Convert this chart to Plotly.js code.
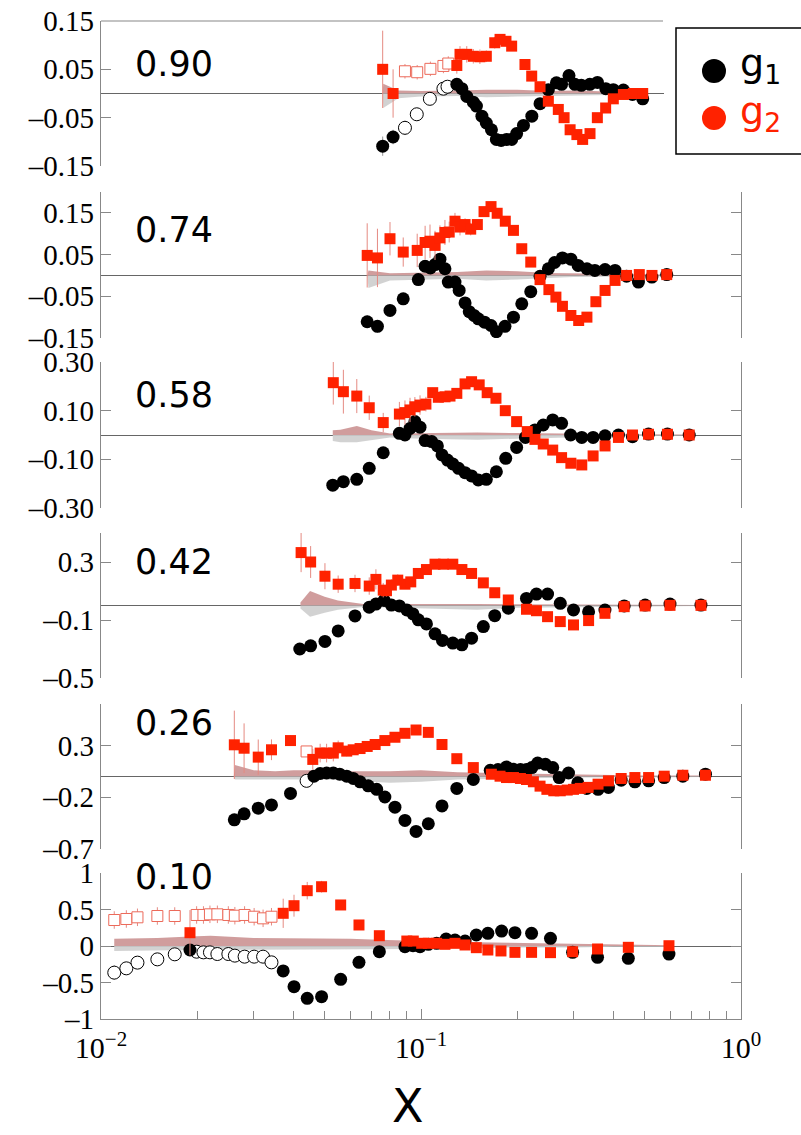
<!DOCTYPE html>
<html>
<head>
<meta charset="utf-8">
<script src="https://cdn.plot.ly/plotly-3.0.1.min.js"></script>
<style>html,body{margin:0;padding:0;background:#fff}#chart{width:801px;height:1135px}</style>
</head>
<body>
<div id="chart"></div>
<script>
// ---------------- DATA ----------------
const panelLabels = ['0.90', '0.74', '0.58', '0.42', '0.26', '0.10'];
const xTickVals = [0.01, 0.1, 1];
const xTickText = ['10<sup>−2</sup>', '10<sup>−1</sup>', '10<sup>0</sup>'];
const xMinorVals = [0.02,0.03,0.04,0.05,0.06,0.07,0.08,0.09,0.2,0.3,0.4,0.5,0.6,0.7,0.8,0.9];
const yTickVals1 = [-0.15,-0.05,0.05,0.15];
const yTickText1 = ['–0.15','–0.05','0.05','0.15'];
const yTickVals2 = [-0.15,-0.05,0.05,0.15];
const yTickText2 = ['–0.15','–0.05','0.05','0.15'];
const yTickVals3 = [-0.3,-0.1,0.1,0.3];
const yTickText3 = ['–0.30','–0.10','0.10','0.30'];
const yTickVals4 = [-0.5,-0.1,0.3];
const yTickText4 = ['–0.5','–0.1','0.3'];
const yTickVals5 = [-0.7,-0.2,0.3];
const yTickText5 = ['–0.7','–0.2','0.3'];
const yTickVals6 = [-1,-0.5,0,0.5,1];
const yTickText6 = ['–1','–0.5','0','0.5','1'];

// Panel 0.90
const p1_g2x = [0.0759,0.0818,0.1294,0.1324,0.139,0.1457,0.1528,0.160,0.170,0.1766,0.1843,0.192,0.2113,0.2218,0.2355,0.250,0.2686,0.280,0.2924,0.307,0.320,0.3374,0.3557,0.3776,0.399,0.429,0.461,0.493];
const p1_g2y = [0.050,0.000,0.058,0.081,0.081,0.077,0.076,0.077,0.105,0.112,0.108,0.098,0.060,0.036,0.014,-0.016,-0.033,-0.050,-0.075,-0.085,-0.095,-0.083,-0.050,-0.030,-0.011,-0.002,0.000,0.000];
const p1_g2e = [0.08,0.05,0.017,0.017,0.017,0.015,0.015,0.012,0.012,0.010,0.008,0.006,0,0,0,0,0,0,0,0,0,0,0,0,0,0,0,0];
const p1_g2ox = [0.0891,0.0973,0.107,0.1175,0.1217];
const p1_g2oy = [0.046,0.044,0.051,0.057,0.062];
const p1_g2oe = [0.015,0.015,0.015,0.015,0.015];
const p1_g1x = [0.0759,0.0818,0.1294,0.1342,0.139,0.1457,0.149,0.155,0.160,0.166,0.172,0.178,0.185,0.192,0.199,0.209,0.222,0.2355,0.250,0.265,0.275,0.290,0.3025,0.317,0.337,0.356,0.378,0.399,0.429,0.458,0.493];
const p1_g1y = [-0.109,-0.090,0.019,0.010,-0.006,-0.018,-0.026,-0.047,-0.061,-0.075,-0.095,-0.097,-0.095,-0.095,-0.083,-0.066,-0.047,-0.021,0.008,0.022,0.019,0.037,0.019,0.017,0.019,0.023,0.010,0.008,0.007,-0.002,-0.011];
const p1_g1e = [0.02,0.015,0.008,0.006,0,0,0,0,0,0,0,0,0,0,0,0,0,0,0,0,0,0,0,0,0,0,0,0,0,0,0];
const p1_g1ox = [0.0891,0.097,0.1066,0.1175,0.121];
const p1_g1oy = [-0.071,-0.043,-0.011,0.010,0.014];
const p1_g1oe = [0.015,0.012,0.01,0.01,0.01];
const p1_bx = [0.0759,0.0762,0.085,0.10,0.13,0.16,0.20,0.25,0.30,0.40,0.50];
const p1_bup = [0,0.02,0.006,0.005,0.006,0.008,0.008,0.005,0.006,0.004,0.002];
const p1_blo = [0,-0.03,-0.01,-0.006,-0.005,-0.008,-0.006,-0.005,-0.004,-0.003,-0.002];

// Panel 0.74
const p2_g2x = [0.0679,0.0731,0.080,0.088,0.0973,0.103,0.1067,0.1106,0.1146,0.1188,0.1225,0.1277,0.1324,0.1373,0.143,0.150,0.1574,0.1655,0.173,0.1834,0.1945,0.2065,0.2203,0.2355,0.251,0.264,0.2767,0.294,0.311,0.330,0.352,0.376,0.404,0.439,0.481,0.527,0.586];
const p2_g2y = [0.048,0.042,0.088,0.056,0.060,0.079,0.082,0.072,0.090,0.103,0.104,0.130,0.116,0.122,0.111,0.122,0.153,0.165,0.149,0.130,0.108,0.064,0.032,-0.010,-0.034,-0.052,-0.074,-0.096,-0.108,-0.100,-0.063,-0.036,-0.012,0.000,0.002,0.000,0.002];
const p2_g2e = [0.077,0.07,0.04,0.035,0.04,0.04,0.04,0.035,0.03,0.03,0.025,0.02,0.02,0.015,0.015,0.01,0.01,0.01,0,0,0,0,0,0,0,0,0,0,0,0,0,0,0,0,0,0,0];
const p2_g1x = [0.0679,0.0731,0.080,0.088,0.0981,0.103,0.107,0.1106,0.1146,0.1188,0.1217,0.1277,0.1316,0.1373,0.1415,0.1464,0.151,0.158,0.1655,0.172,0.183,0.1945,0.2065,0.2203,0.2355,0.250,0.2615,0.2767,0.294,0.3097,0.330,0.3495,0.376,0.404,0.439,0.478,0.5265,0.586];
const p2_g1y = [-0.111,-0.122,-0.084,-0.056,-0.010,0.022,0.018,0.026,0.039,0.016,-0.016,-0.016,-0.036,-0.066,-0.087,-0.096,-0.104,-0.112,-0.120,-0.135,-0.122,-0.100,-0.068,-0.039,-0.002,0.016,0.031,0.042,0.039,0.024,0.016,0.012,0.014,0.012,-0.002,-0.016,-0.004,0.002];
const p2_g1e = [0.015,0.015,0.01,0.01,0.01,0.01,0.01,0.008,0.008,0,0,0,0,0,0,0,0,0,0,0,0,0,0,0,0,0,0,0,0,0,0,0,0,0,0,0,0,0];
const p2_bx = [0.068,0.0685,0.08,0.10,0.13,0.16,0.20,0.25,0.30,0.40,0.59];
const p2_bup = [0,0.012,0.005,0.006,0.008,0.012,0.010,0.006,0.005,0.003,0.002];
const p2_blo = [0,-0.03,-0.012,-0.010,-0.008,-0.012,-0.010,-0.006,-0.004,-0.003,-0.002];

// Panel 0.58
const p3_g2x = [0.0532,0.0572,0.063,0.0689,0.0762,0.0856,0.0891,0.0924,0.0957,0.0993,0.1036,0.1088,0.1133,0.1189,0.1232,0.1294,0.1373,0.1439,0.152,0.161,0.1715,0.1834,0.199,0.2148,0.227,0.241,0.258,0.275,0.294,0.318,0.345,0.376,0.414,0.458,0.514,0.589,0.689];
const p3_g2y = [0.215,0.178,0.160,0.112,0.051,0.086,0.092,0.103,0.116,0.123,0.127,0.174,0.155,0.157,0.160,0.171,0.210,0.219,0.206,0.174,0.151,0.100,0.055,0.014,-0.018,-0.037,-0.062,-0.093,-0.116,-0.123,-0.086,-0.045,-0.010,0.000,0.003,0.003,0.000];
const p3_g2e = [0.09,0.09,0.07,0.05,0.04,0.05,0.05,0.05,0.04,0.04,0.03,0.02,0.015,0.015,0.01,0,0,0,0,0,0,0,0,0,0,0,0,0,0,0,0,0,0,0,0,0,0];
const p3_g1x = [0.0530,0.0572,0.063,0.0689,0.0762,0.0856,0.0891,0.0924,0.0957,0.0993,0.103,0.108,0.1125,0.1163,0.121,0.1257,0.131,0.1373,0.1439,0.151,0.160,0.172,0.184,0.199,0.212,0.227,0.241,0.258,0.275,0.2935,0.318,0.345,0.376,0.414,0.458,0.514,0.589,0.689];
const p3_g1y = [-0.206,-0.192,-0.182,-0.137,-0.073,0.007,0.000,0.027,0.055,0.032,-0.023,-0.027,-0.045,-0.082,-0.103,-0.119,-0.137,-0.155,-0.168,-0.185,-0.182,-0.151,-0.096,-0.051,-0.010,0.021,0.041,0.062,0.048,0.000,-0.010,-0.010,-0.003,0.000,-0.007,0.004,0.004,0.000];
const p3_g1e = [0.015,0.015,0.015,0.012,0.012,0.01,0.01,0,0,0,0,0,0,0,0,0,0,0,0,0,0,0,0,0,0,0,0,0,0,0,0,0,0,0,0,0,0,0];
const p3_bx = [0.053,0.056,0.063,0.07,0.08,0.10,0.15,0.20,0.30,0.45,0.69];
const p3_bup = [0.02,0.022,0.037,0.02,0.006,0.008,0.010,0.008,0.005,0.003,0.002];
const p3_blo = [-0.025,-0.03,-0.03,-0.02,-0.01,-0.015,-0.02,-0.015,-0.008,-0.004,-0.002];

// Panel 0.42
const p4_g2x = [0.0422,0.0452,0.0501,0.0551,0.0622,0.0689,0.0723,0.0762,0.078,0.0808,0.0846,0.0891,0.0929,0.0981,0.104,0.1106,0.1175,0.1257,0.1342,0.1439,0.1566,0.170,0.1874,0.2136,0.2295,0.2486,0.2724,0.2996,0.334,0.3757,0.4315,0.5017,0.600,0.7497];
const p4_g2y = [0.365,0.300,0.202,0.147,0.152,0.134,0.180,0.106,0.102,0.141,0.175,0.147,0.163,0.221,0.248,0.285,0.285,0.285,0.248,0.221,0.156,0.088,0.038,-0.026,-0.036,-0.077,-0.111,-0.134,-0.104,-0.054,-0.008,-0.003,0.001,0.001];
const p4_g2e = [0.135,0.11,0.09,0.06,0.06,0.06,0.07,0.05,0.04,0.04,0.04,0.03,0.03,0.02,0.015,0.01,0,0,0,0,0,0,0,0,0,0,0,0,0,0,0,0,0,0];
const p4_g1x = [0.0418,0.0452,0.0501,0.0551,0.0622,0.0689,0.0723,0.0767,0.0808,0.0856,0.0903,0.0944,0.0981,0.104,0.1106,0.1167,0.1257,0.1342,0.1439,0.1566,0.170,0.1874,0.2136,0.2295,0.2486,0.2724,0.2996,0.334,0.3757,0.4315,0.5017,0.600,0.7497];
const p4_g1y = [-0.300,-0.278,-0.248,-0.175,-0.072,-0.012,0.010,0.035,0.003,-0.003,-0.031,-0.058,-0.099,-0.127,-0.195,-0.241,-0.259,-0.271,-0.225,-0.145,-0.070,-0.019,0.049,0.079,0.079,0.015,-0.031,-0.043,-0.031,-0.003,0.003,0.010,0.003];
const p4_g1e = [0.02,0.02,0.02,0.015,0.015,0.01,0.01,0,0,0,0,0,0,0,0,0,0,0,0,0,0,0,0,0,0,0,0,0,0,0,0,0,0];
const p4_bx = [0.042,0.045,0.05,0.055,0.066,0.10,0.15,0.20,0.30,0.50,0.75];
const p4_bup = [0.02,0.10,0.06,0.035,0.01,0.012,0.010,0.008,0.005,0.004,0.003];
const p4_blo = [-0.02,-0.077,-0.05,-0.03,-0.01,-0.02,-0.03,-0.015,-0.01,-0.005,-0.003];

// Panel 0.26
const p5_g2x = [0.0261,0.0280,0.0310,0.0341,0.0391,0.0459,0.0484,0.0507,0.0532,0.0551,0.0586,0.0614,0.0645,0.0679,0.0719,0.0771,0.0829,0.0891,0.0965,0.1054,0.1163,0.1294,0.1457,0.1659,0.1766,0.185,0.1945,0.2045,0.2136,0.2245,0.2355,0.2474,0.260,0.2724,0.2864,0.2996,0.3146,0.333,0.3575,0.3853,0.4222,0.466,0.5144,0.5755,0.658,0.7743];
const p5_g2y = [0.306,0.273,0.187,0.258,0.347,0.165,0.226,0.226,0.226,0.277,0.245,0.258,0.270,0.290,0.309,0.347,0.379,0.417,0.449,0.426,0.309,0.172,0.086,0.022,0.003,-0.010,-0.010,-0.019,-0.029,-0.051,-0.093,-0.124,-0.138,-0.138,-0.131,-0.124,-0.115,-0.105,-0.074,-0.042,-0.019,-0.010,-0.010,0.003,0.012,0.012];
const p5_g2e = [0.33,0.24,0.17,0.10,0.05,0.10,0.09,0.09,0.08,0.07,0.05,0.04,0.03,0.02,0.02,0.01,0,0,0,0,0,0,0,0,0,0,0,0,0,0,0,0,0,0,0,0,0,0,0,0,0,0,0,0,0,0];
const p5_g2ox = [0.0439];
const p5_g2oy = [0.242];
const p5_g2oe = [0.05];
const p5_g1x = [0.0261,0.0280,0.0310,0.0341,0.0391,0.0463,0.0484,0.0507,0.0532,0.0557,0.0586,0.0614,0.0645,0.0684,0.0727,0.0771,0.0829,0.0891,0.0965,0.1054,0.1163,0.1294,0.1457,0.1646,0.174,0.185,0.1945,0.2045,0.2136,0.222,0.2315,0.2448,0.258,0.2703,0.289,0.309,0.3295,0.3575,0.3853,0.4222,0.466,0.5144,0.5755,0.658,0.7743];
const p5_g1y = [-0.418,-0.360,-0.306,-0.274,-0.163,0.003,0.029,0.034,0.034,0.022,0.003,-0.019,-0.051,-0.090,-0.124,-0.198,-0.296,-0.424,-0.530,-0.456,-0.284,-0.115,-0.029,0.060,0.067,0.092,0.070,0.067,0.067,0.086,0.130,0.118,0.086,-0.010,0.034,-0.061,-0.115,-0.124,-0.105,-0.035,-0.051,-0.042,-0.010,0.003,0.022];
const p5_g1e = [0.03,0.03,0.03,0.03,0.03,0.02,0.02,0.02,0.02,0.02,0,0,0,0,0,0,0,0,0,0,0,0,0,0,0,0,0,0,0,0,0,0,0,0,0,0,0,0,0,0,0,0,0,0,0];
const p5_g1ox = [0.0439];
const p5_g1oy = [-0.042];
const p5_g1oe = [0.02];
const p5_bx = [0.026,0.0262,0.03,0.035,0.04,0.05,0.06,0.08,0.10,0.13,0.20,0.30,0.50,0.78];
const p5_bup = [0,0.11,0.06,0.05,0.06,0.06,0.05,0.05,0.06,0.04,0.03,0.02,0.01,0.01];
const p5_blo = [0,-0.03,-0.03,-0.03,-0.03,-0.03,-0.04,-0.06,-0.05,-0.03,-0.02,-0.01,-0.01,-0.005];

// Panel 0.10
const p6_g2x = [0.01897,0.0371,0.0401,0.0441,0.0489,0.0561,0.0640,0.0741,0.0903,0.0946,0.1005,0.1054,0.1119,0.1188,0.1277,0.1373,0.1489,0.1618,0.1778,0.1966,0.2216,0.2539,0.2977,0.3562,0.4445,0.5955];
const p6_g2y = [0.182,0.448,0.552,0.758,0.812,0.562,0.288,0.141,0.068,0.068,0.037,0.037,0.037,0.023,0.037,0.014,-0.023,-0.055,-0.068,-0.087,-0.087,-0.091,-0.078,-0.041,-0.018,0.004];
const p6_g2e = [0.31,0.2,0.15,0.12,0.08,0,0,0,0,0,0,0,0,0,0,0,0,0,0,0,0,0,0,0,0,0];
const p6_g2ox = [0.0110,0.0120,0.0130,0.0150,0.0170,0.0199,0.0209,0.0219,0.0231,0.0250,0.0262,0.0281,0.0301,0.0321,0.0341];
const p6_g2oy = [0.356,0.370,0.393,0.411,0.411,0.425,0.425,0.434,0.434,0.425,0.415,0.425,0.401,0.379,0.401];
const p6_g2oe = [0.12,0.12,0.12,0.12,0.12,0.12,0.12,0.12,0.12,0.12,0.12,0.12,0.12,0.12,0.12];
const p6_g1x = [0.01897,0.0371,0.0401,0.0441,0.0489,0.0561,0.0640,0.0741,0.0891,0.0944,0.0993,0.1054,0.1119,0.1198,0.1277,0.1373,0.1489,0.1618,0.1786,0.1966,0.2216,0.2539,0.2977,0.3562,0.4445,0.5955];
const p6_g1y = [-0.055,-0.342,-0.557,-0.717,-0.694,-0.457,-0.224,-0.078,-0.009,0.004,-0.009,0.023,0.037,0.096,0.082,0.068,0.151,0.174,0.205,0.182,0.174,0.105,-0.087,-0.155,-0.169,-0.110];
const p6_g1e = [0.05,0.04,0.03,0.03,0.03,0,0,0,0,0,0,0,0,0,0,0,0,0,0,0,0,0,0,0,0,0];
const p6_g1ox = [0.0110,0.0120,0.0130,0.0150,0.0170,0.0199,0.0209,0.0219,0.0231,0.0250,0.0262,0.0281,0.0301,0.0321,0.0341];
const p6_g1oy = [-0.365,-0.306,-0.228,-0.183,-0.114,-0.078,-0.087,-0.087,-0.110,-0.110,-0.132,-0.146,-0.146,-0.146,-0.224];
const p6_g1oe = [0.1,0.08,0.07,0.05,0.05,0.03,0.03,0.03,0.03,0.03,0.03,0.03,0.03,0.03,0.03];
const p6_bx = [0.011,0.015,0.019,0.022,0.03,0.04,0.05,0.06,0.07,0.08,0.10,0.15,0.20,0.30,0.40,0.60];
const p6_bup = [0.10,0.11,0.13,0.14,0.11,0.11,0.10,0.10,0.09,0.08,0.07,0.05,0.04,0.03,0.02,0.01];
const p6_blo = [-0.07,-0.06,-0.06,-0.05,-0.05,-0.05,-0.05,-0.04,-0.04,-0.04,-0.04,-0.03,-0.02,-0.02,-0.01,-0.01];

// ---------------- STYLE / BUILD ----------------
const RED = '#ff2200';
const OPENRED = '#ec6a5a';
const ERRRED = '#e58a82';
const ERRGRAY = '#999999';
const ROSE = 'rgba(200,140,140,0.85)';
const GRAYBAND = 'rgba(205,205,205,0.9)';
const W = 801, H = 1135, L = 101, R = 741;

function band(x, y, ax, color) {
  return {x: x, y: y, xaxis: 'x', yaxis: ax, type: 'scatter', mode: 'lines',
    fill: 'tozeroy', fillcolor: color, line: {width: 0, color: color}, hoverinfo: 'skip', showlegend: false};
}
function series(x, y, e, ax, sym, fill, lineCol, errCol, size) {
  return {x: x, y: y, xaxis: 'x', yaxis: ax, type: 'scatter', mode: 'markers', showlegend: false,
    error_y: {type: 'data', array: e, visible: true, color: errCol, thickness: 1, width: 0},
    marker: {symbol: sym, size: size, color: fill, line: {width: lineCol ? 1 : 0, color: lineCol || fill}}};
}
const panels = [
  {ax:'y', bx:p1_bx, bup:p1_bup, blo:p1_blo, g1:[p1_g1x,p1_g1y,p1_g1e], g1o:[p1_g1ox,p1_g1oy,p1_g1oe], g2:[p1_g2x,p1_g2y,p1_g2e], g2o:[p1_g2ox,p1_g2oy,p1_g2oe]},
  {ax:'y2', bx:p2_bx, bup:p2_bup, blo:p2_blo, g1:[p2_g1x,p2_g1y,p2_g1e], g2:[p2_g2x,p2_g2y,p2_g2e]},
  {ax:'y3', bx:p3_bx, bup:p3_bup, blo:p3_blo, g1:[p3_g1x,p3_g1y,p3_g1e], g2:[p3_g2x,p3_g2y,p3_g2e]},
  {ax:'y4', bx:p4_bx, bup:p4_bup, blo:p4_blo, g1:[p4_g1x,p4_g1y,p4_g1e], g2:[p4_g2x,p4_g2y,p4_g2e]},
  {ax:'y5', bx:p5_bx, bup:p5_bup, blo:p5_blo, g1:[p5_g1x,p5_g1y,p5_g1e], g1o:[p5_g1ox,p5_g1oy,p5_g1oe], g2:[p5_g2x,p5_g2y,p5_g2e], g2o:[p5_g2ox,p5_g2oy,p5_g2oe]},
  {ax:'y6', bx:p6_bx, bup:p6_bup, blo:p6_blo, g1:[p6_g1x,p6_g1y,p6_g1e], g1o:[p6_g1ox,p6_g1oy,p6_g1oe], g2:[p6_g2x,p6_g2y,p6_g2e], g2o:[p6_g2ox,p6_g2oy,p6_g2oe]}
];
const traces = [];
panels.forEach(p => {
  traces.push(band(p.bx, p.bup, p.ax, ROSE));
  traces.push(band(p.bx, p.blo, p.ax, GRAYBAND));
});
panels.forEach(p => {
  if (p.g1o) traces.push(series(p.g1o[0], p.g1o[1], p.g1o[2], p.ax, 'circle', '#ffffff', '#000000', ERRGRAY, 13));
  traces.push(series(p.g1[0], p.g1[1], p.g1[2], p.ax, 'circle', '#000000', null, ERRGRAY, 13));
  if (p.g2o) traces.push(series(p.g2o[0], p.g2o[1], p.g2o[2], p.ax, 'square', '#ffffff', OPENRED, ERRRED, 11));
  traces.push(series(p.g2[0], p.g2[1], p.g2[2], p.ax, 'square', RED, null, ERRRED, 11));
});

// pixel helpers (paper coordinates)
const px = v => (v - L) / (R - L);
const py = v => 1 - v / H;

const yDom = [[21,166],[192,338],[362,508],[533,678],[704,849],[873,1019]];
const yRanges = [[-0.15,0.15],[-0.15,0.20],[-0.30,0.30],[-0.5,0.5],[-0.7,0.7],[-1,1]];
const yTV = [yTickVals1,yTickVals2,yTickVals3,yTickVals4,yTickVals5,yTickVals6];
const yTT = [yTickText1,yTickText2,yTickText3,yTickText4,yTickText5,yTickText6];

const layout = {
  width: W, height: H, showlegend: false,
  margin: {l: L, r: W - R, t: 0, b: 0, pad: 0},
  paper_bgcolor: '#ffffff', plot_bgcolor: 'rgba(0,0,0,0)',
  xaxis: {type: 'log', range: [-2, 0], anchor: 'y6', showline: true, linecolor: '#888', linewidth: 1.2,
    ticks: 'inside', ticklen: 10, tickcolor: '#888', tickvals: xTickVals, ticktext: xTickText,
    minor: {tickvals: xMinorVals, ticks: 'inside', ticklen: 8, tickcolor: '#888', showgrid: false},
    tickfont: {family: 'Liberation Serif, serif', size: 30, color: '#000'}, showgrid: false, zeroline: false,
    ticklabelstandoff: 2},
  shapes: [], annotations: []
};
for (let i = 0; i < 6; i++) {
  const key = i === 0 ? 'yaxis' : 'yaxis' + (i + 1);
  layout[key] = {
    domain: [py(yDom[i][1]), py(yDom[i][0])], range: yRanges[i], anchor: 'x',
    showline: true, linecolor: '#888', linewidth: 1.2, mirror: i === 0 ? false : 'ticks',
    ticks: 'inside', ticklen: 10, tickcolor: '#888', tickvals: yTV[i], ticktext: yTT[i],
    tickfont: {family: 'Liberation Serif, serif', size: 29, color: '#000'}, ticklabelstandoff: 0,
    showgrid: false, zeroline: true, zerolinecolor: '#666', zerolinewidth: 1
  };
  layout.annotations.push({xref: 'paper', yref: 'paper', x: px(133), y: py([64, 230, 395, 562, 723, 877][i]),
    xanchor: 'left', yanchor: 'middle', showarrow: false, text: panelLabels[i],
    font: {family: 'DejaVu Sans, sans-serif', size: 35, color: '#000'}});
}
// top frame line of first panel
layout.shapes.push({type: 'line', xref: 'paper', yref: 'paper', x0: 0, x1: px(663), y0: py(21), y1: py(21), line: {color: '#888', width: 1.2}});
// legend
layout.shapes.push({type: 'rect', xref: 'paper', yref: 'paper', layer: 'above', x0: px(664), x1: px(805), y0: py(170), y1: py(0), fillcolor: '#ffffff', line: {width: 0}});
layout.shapes.push({type: 'rect', xref: 'paper', yref: 'paper', layer: 'above', x0: px(676), x1: px(806), y0: py(154), y1: py(28), fillcolor: '#ffffff', line: {color: '#000', width: 1.5}});
layout.shapes.push({type: 'circle', xref: 'paper', yref: 'paper', layer: 'above', x0: px(702), x1: px(726), y0: py(83), y1: py(59), fillcolor: '#000', line: {width: 0}});
layout.shapes.push({type: 'circle', xref: 'paper', yref: 'paper', layer: 'above', x0: px(702), x1: px(726), y0: py(130), y1: py(106), fillcolor: RED, line: {width: 0}});
layout.annotations.push({xref: 'paper', yref: 'paper', x: px(738), y: py(66), xanchor: 'left', yanchor: 'middle', showarrow: false,
  text: 'g<sub>1</sub>', font: {family: 'DejaVu Sans, sans-serif', size: 38, color: '#000'}});
layout.annotations.push({xref: 'paper', yref: 'paper', x: px(738), y: py(113), xanchor: 'left', yanchor: 'middle', showarrow: false,
  text: 'g<sub>2</sub>', font: {family: 'DejaVu Sans, sans-serif', size: 38, color: RED}});
// x axis title
layout.annotations.push({xref: 'paper', yref: 'paper', x: px(408), y: py(1134), xanchor: 'center', yanchor: 'bottom', showarrow: false,
  borderpad: 0, text: 'X', font: {family: 'DejaVu Sans, sans-serif', size: 46, color: '#000'}});

Plotly.newPlot('chart', traces, layout, {displayModeBar: false, staticPlot: true});
</script>
</body>
</html>
